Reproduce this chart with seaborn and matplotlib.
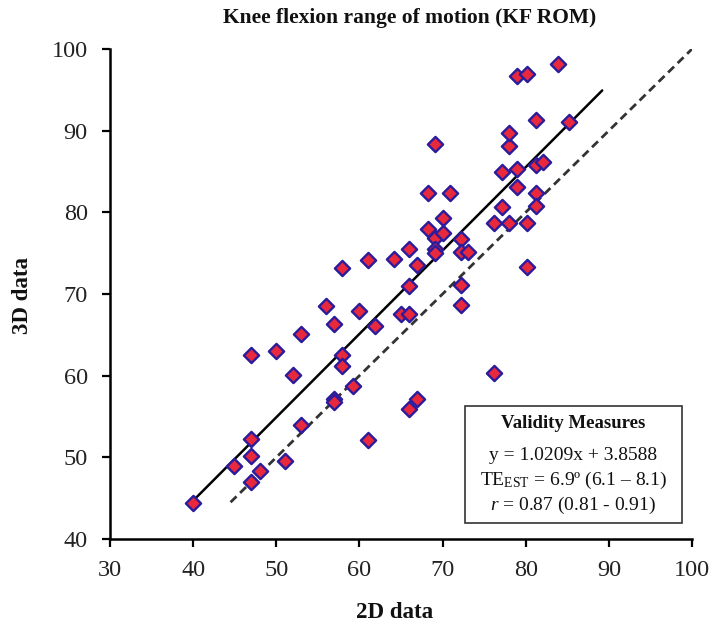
import numpy as np
import pandas as pd
import matplotlib
matplotlib.use("Agg")
import matplotlib.pyplot as plt
import seaborn as sns

# ---- data ----
x2d = [40.0, 44.9, 47.0, 48.0, 47.0, 47.0, 51.0, 53.0, 47.0, 50.0,
       52.0, 53.0, 56.0, 57.0, 57.9, 57.9, 57.9, 59.2, 56.9, 57.0,
       61.0, 61.0, 60.0, 61.9, 64.1, 65.0, 66.0, 66.0, 66.0, 66.9,
       66.9, 66.0, 68.2, 68.2, 69.1, 69.1, 69.1, 69.1, 70.0, 70.0,
       70.9, 72.2, 72.2, 73.1, 72.2, 72.2, 76.2, 76.2, 77.1, 77.1,
       78.0, 78.0, 78.0, 79.0, 80.2, 83.9, 79.0, 79.0, 80.2, 80.2,
       81.2, 82.1, 81.2, 85.2, 81.2, 81.2]
y3d = [44.4, 49.0, 47.0, 48.3, 50.2, 52.2, 49.6, 54.0, 62.5, 63.0,
       60.1, 65.1, 68.5, 66.3, 73.2, 62.5, 61.2, 58.7, 57.2, 56.8,
       52.1, 74.2, 67.9, 66.1, 74.3, 67.6, 67.6, 71.0, 75.5, 73.6,
       57.1, 55.9, 82.4, 78.0, 88.4, 76.8, 75.5, 75.0, 79.3, 77.5,
       82.4, 76.7, 75.2, 75.2, 71.1, 68.6, 60.3, 78.7, 80.6, 85.0,
       78.7, 88.1, 89.7, 96.7, 97.0, 98.2, 85.3, 83.1, 78.7, 73.3,
       85.8, 86.2, 91.3, 91.1, 82.4, 80.8]

slope, intercept = 1.0209, 3.8588
reg_x = [40.0, 89.2]
ident_x = [44.5, 100.0]

x_ticks = [30, 40, 50, 60, 70, 80, 90, 100]
y_ticks = [40, 50, 60, 70, 80, 90, 100]

title = "Knee flexion range of motion (KF ROM)"
xlabel = "2D data"
ylabel = "3D data"
box_title = "Validity Measures"
box_lines = ["y = 1.0209x + 3.8588",
             r"TE$_{\mathrm{EST}}$ = 6.9º (6.1 – 8.1)",
             r"$\mathit{r}$ = 0.87 (0.81 - 0.91)"]

# ---- style ----
sns.set_theme(style="ticks")
plt.rcParams["font.family"] = ["Liberation Serif", "DejaVu Serif"]
plt.rcParams["mathtext.fontset"] = "custom"
plt.rcParams["mathtext.rm"] = "Liberation Serif"
plt.rcParams["mathtext.it"] = "Liberation Serif:italic"
plt.rcParams["mathtext.bf"] = "Liberation Serif:bold"

fig = plt.figure(figsize=(7.15, 6.33), dpi=100)
W, H = 715, 633
ax = fig.add_axes([110 / W, 1 - 539 / H, (692 - 110) / W, (539 - 49) / H])

df = pd.DataFrame({"x": x2d, "y": y3d})
reg_df = pd.DataFrame({"x": reg_x, "y": [slope * v + intercept for v in reg_x]})
id_df = pd.DataFrame({"x": ident_x, "y": ident_x})

sns.lineplot(data=reg_df, x="x", y="y", ax=ax, color="black", lw=1.8, zorder=2)
sns.lineplot(data=id_df, x="x", y="y", ax=ax, color="#333333", lw=2.0,
             linestyle=(0, (3.0, 1.8)), zorder=2)
sns.scatterplot(data=df, x="x", y="y", ax=ax, marker="D", s=60,
                color="#e8283c", edgecolor="#2a1c9c", linewidth=1.7, zorder=3)

ax.set_xlim(30, 100)
ax.set_ylim(40, 100)
ax.set_xticks(x_ticks)
ax.set_yticks(y_ticks)
ax.tick_params(axis="both", labelsize=17.5, width=1.6, length=6, color="black",
               labelcolor="#222222", direction="out")
ax.tick_params(axis="y", pad=10)
ax.tick_params(axis="x", pad=9)
ax.set_xlabel("")
ax.set_ylabel("")
for s in ["top", "right"]:
    ax.spines[s].set_visible(False)
for s in ["left", "bottom"]:
    ax.spines[s].set_linewidth(1.8)
    ax.spines[s].set_color("black")

fig.text(410 / W, 1 - 18 / H, title, ha="center", va="center",
         fontsize=15.5, fontweight="bold", color="#111111")
fig.text(395 / W, 1 - 612 / H, xlabel, ha="center", va="center",
         fontsize=16.5, fontweight="bold", color="#111111")
fig.text(22 / W, 1 - 296 / H, ylabel, ha="center", va="center", rotation=90,
         fontsize=16.5, fontweight="bold", color="#111111")

# validity box
from matplotlib.patches import Rectangle
bx0, bx1, by0, by1 = 465, 682, 406, 523
fig.patches.append(Rectangle((bx0 / W, 1 - by1 / H), (bx1 - bx0) / W, (by1 - by0) / H,
                             transform=fig.transFigure, fill=True, facecolor="white",
                             edgecolor="#333333", lw=1.2, zorder=5))
cx = (bx0 + bx1) / 2 / W
fig.text(cx, 1 - 423 / H, box_title, ha="center", va="center", fontsize=13.5,
         fontweight="bold", color="#111111", zorder=6)
for yy, t in zip([456, 480, 505], box_lines):
    fig.text(cx, 1 - yy / H, t, ha="center", va="center", fontsize=14,
             color="#111111", zorder=6)

fig.savefig("out.png", dpi=100)
